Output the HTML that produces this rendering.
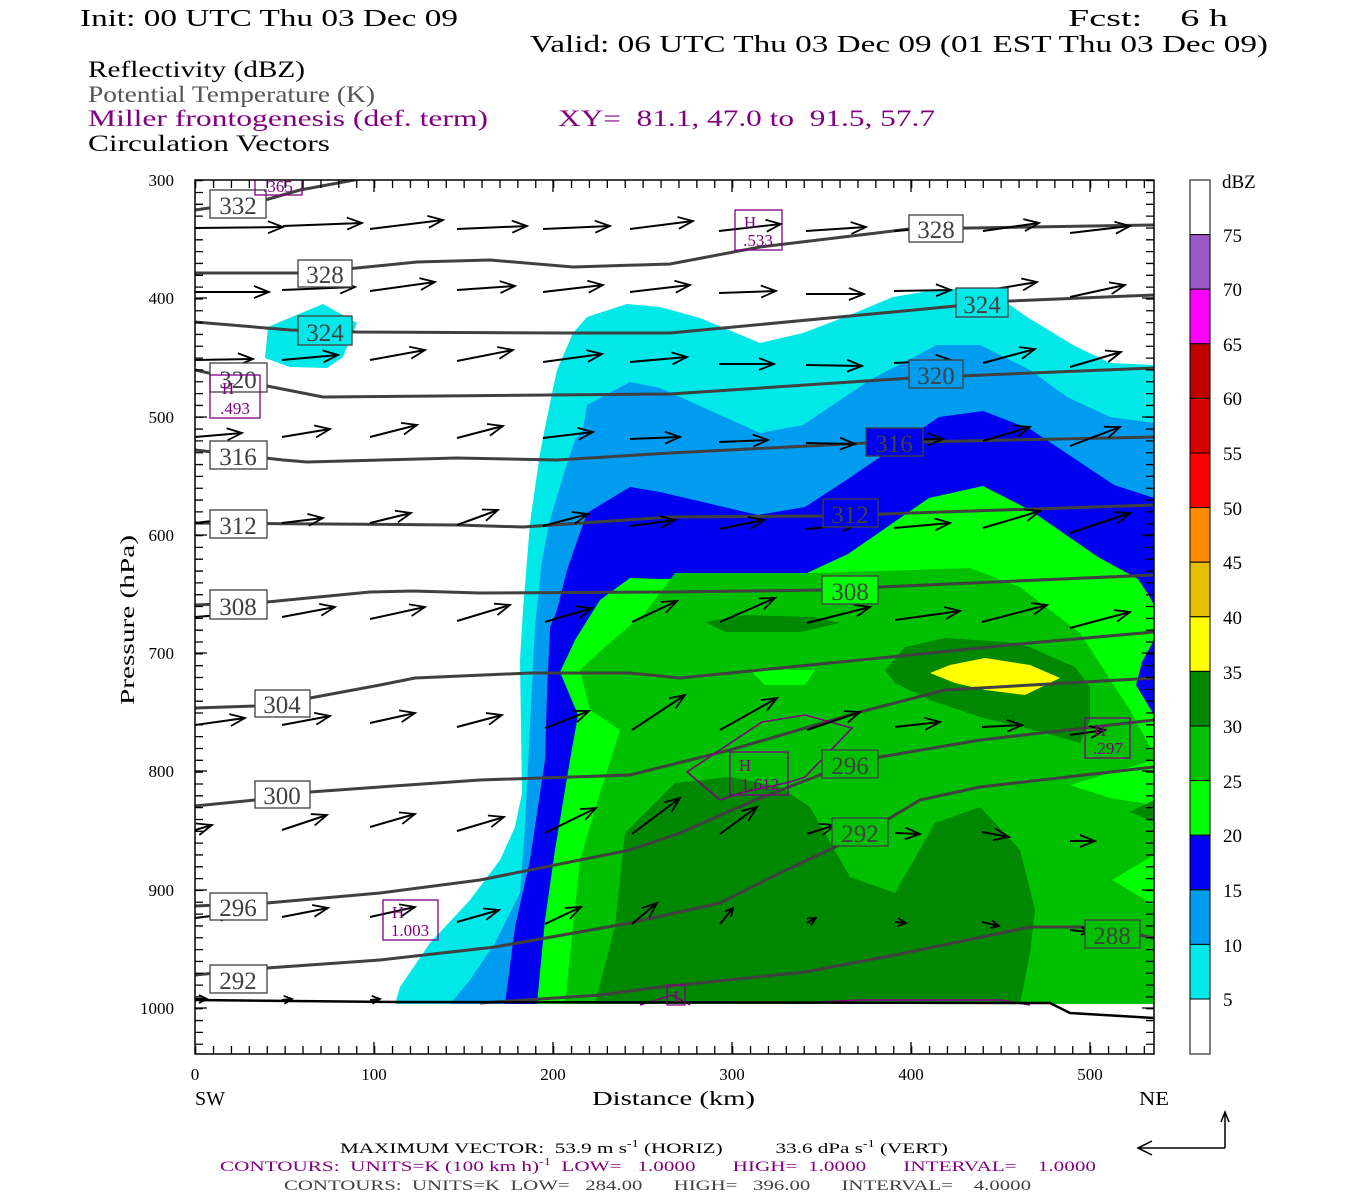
<!DOCTYPE html>
<html><head><meta charset="utf-8"><style>
html,body{margin:0;padding:0;background:#fff;}
svg{display:block;}
text{font-family:"Liberation Serif",serif;white-space:pre;}
</style></head><body>
<svg width="1350" height="1200" viewBox="0 0 1350 1200" xmlns="http://www.w3.org/2000/svg" xml:space="preserve">
<defs>
<clipPath id="pc"><rect x="195" y="180" width="959" height="874"/></clipPath>
<marker id="ah" markerUnits="userSpaceOnUse" markerWidth="40" markerHeight="40" viewBox="-20 -20 40 40" refX="0" refY="0" orient="auto" overflow="visible"><path d="M-15,-6 L0,0 L-15,6" fill="none" stroke="#000" stroke-width="1.8"/></marker>
<marker id="ah2" markerUnits="userSpaceOnUse" markerWidth="40" markerHeight="40" viewBox="-20 -20 40 40" refX="0" refY="0" orient="auto" overflow="visible"><path d="M-8,-4 L0,0 L-8,4" fill="none" stroke="#000" stroke-width="1.8"/></marker>
</defs>

<!-- header text -->
<text x="80" y="26" font-size="24" textLength="378" lengthAdjust="spacingAndGlyphs">Init: 00 UTC Thu 03 Dec 09</text>
<text x="1068" y="26" font-size="24" textLength="160" lengthAdjust="spacingAndGlyphs">Fcst:    6 h</text>
<text x="530" y="52" font-size="24" textLength="738" lengthAdjust="spacingAndGlyphs">Valid: 06 UTC Thu 03 Dec 09 (01 EST Thu 03 Dec 09)</text>
<text x="88" y="77" font-size="23" textLength="217" lengthAdjust="spacingAndGlyphs">Reflectivity (dBZ)</text>
<text x="88" y="102" font-size="23" fill="#555" textLength="287" lengthAdjust="spacingAndGlyphs">Potential Temperature (K)</text>
<text x="88" y="126" font-size="23" fill="#800080" textLength="400" lengthAdjust="spacingAndGlyphs">Miller frontogenesis (def. term)</text>
<text x="558" y="126" font-size="23" fill="#800080" textLength="377" lengthAdjust="spacingAndGlyphs">XY=  81.1, 47.0 to  91.5, 57.7</text>
<text x="88" y="151" font-size="23" textLength="242" lengthAdjust="spacingAndGlyphs">Circulation Vectors</text>

<g clip-path="url(#pc)">
<path fill="#00E8E8" d="M395,1004 L400,987 430,943 470,900 500,860 515,827 522,793 520,660 523,610 530,523 540,453 550,403 557,370 573,333 587,317 627,304 660,307 700,318 760,343 803,333 850,315 893,297 935,290 970,288 1000,298 1027,317 1073,345 1110,363 1154,365 L1154,1004 Z"/>
<path fill="#00E8E8" d="M268,327 L323,304 357,323 343,357 327,368 290,367 265,358 Z"/>
<path fill="#009CF0" d="M450,1004 L470,980 495,943 520,893 525,827 530,727 535,627 542,560 550,520 565,470 575,440 583,430 587,405 630,382 660,388 760,433 803,425 870,380 937,345 980,345 1030,370 1067,397 1110,417 1154,423 L1154,1004 Z"/>
<path fill="#0000F0" d="M505,1004 L515,927 530,860 545,760 547,693 550,627 557,610 567,570 587,513 630,487 660,492 758,515 805,507 842,483 939,417 983,411 1030,429 1114,485 1154,498 L1154,1004 Z"/>
<path fill="#00FF00" d="M537,1004 L545,920 555,850 570,760 578,715 560,672 575,640 600,600 630,578 660,579 805,574 848,554 929,498 983,486 1030,510 1098,557 1138,579 1148,594 1154,605 L1154,1004 Z"/>
<path fill="#0000F0" d="M1154,640 L1142,662 1136,685 1154,715 Z"/>
<path fill="#00C000" d="M565,1004 L580,860 600,793 620,730 590,710 580,670 605,647 645,613 675,573 820,573 970,568 1020,587 1080,633 1130,710 1150,747 1154,750 L1154,1004 Z"/>
<path fill="#00FF00" d="M750,670 L815,670 805,685 765,685 Z"/>
<path fill="#00FF00" d="M1154,760 L1070,785 1110,798 1154,805 Z"/>
<path fill="#00FF00" d="M1154,855 L1112,880 1154,905 Z"/>
<path fill="#008800" d="M705,622 L745,615 815,617 840,623 800,632 725,632 Z"/>
<path fill="#008800" d="M885,670 L905,647 945,638 1020,643 1075,667 1090,687 1090,720 1080,743 1045,733 980,717 930,700 895,683 Z"/>
<path fill="#008800" d="M595,1004 L615,927 625,833 675,783 730,777 780,787 810,807 850,877 895,893 935,823 980,807 1020,850 1035,910 1030,953 1020,1004 Z"/>
<path fill="#008800" d="M1154,800 L1130,812 1154,822 Z"/>
<path fill="#FFFF00" d="M930,673 L950,665 985,658 1030,665 1060,678 1025,695 985,690 955,683 Z"/>

<g fill="none" stroke="#404040" stroke-width="3" stroke-linejoin="round">
<polyline points="195,210 265,200 300,190 365,178"/>
<polyline points="195,273 300,273 357,268 417,262 490,260 573,267 670,264 760,247 860,235 909,229 1154,225"/>
<polyline points="195,322 290,330 357,332 567,333 670,333 956,306 1010,301 1154,295"/>
<polyline points="195,370 267,386 323,397 670,394 911,378 1154,368"/>
<polyline points="195,450 283,460 307,462 457,458 557,460 670,453 867,443 1154,437"/>
<polyline points="195,523 457,525 523,527 670,517 823,516 1154,505"/>
<polyline points="195,605 267,602 370,592 413,591 480,593 670,592 825,590 880,587 1154,575"/>
<polyline points="195,708 255,706 310,698 380,685 415,678 530,673 630,673 680,678 830,663 1030,643 1154,632"/>
<polyline points="195,806 255,800 310,792 380,787 480,780 630,775 730,750 860,712 945,690 1154,678"/>
<polyline points="195,906 267,903 380,893 480,880 630,850 680,833 755,800 825,773 880,757 980,740 1154,720"/>
<polyline points="195,975 267,968 380,960 495,947 630,923 720,903 780,873 835,847 890,818 920,800 980,787 1154,767"/>
<polyline points="480,1003 600,995 660,987 805,972 895,955 1030,927 1085,927 1140,935 1154,938"/>
</g>
<g fill="none" stroke="#800080" stroke-width="1.5">
<polygon points="687,772 762,722 805,715 852,728 805,777 790,782 740,793 720,800"/>
<polyline points="640,1005 672,995 690,1005"/>
<polyline points="800,1003 860,1000 1000,1000 1030,1005"/>
</g>
<polyline points="195,1000 400,1002 1050,1003 1070,1013 1154,1018" fill="none" stroke="#000" stroke-width="2.5"/>

<g stroke="#000" stroke-width="2" marker-end="url(#ah)">
<line x1="195" y1="228" x2="283" y2="227"/><line x1="283" y1="226" x2="362" y2="223"/><line x1="370" y1="229" x2="443" y2="220"/><line x1="457" y1="229" x2="527" y2="226"/><line x1="543" y1="229" x2="610" y2="226"/><line x1="630" y1="229" x2="693" y2="221"/><line x1="719" y1="231" x2="781" y2="224"/><line x1="806" y1="231" x2="866" y2="227"/><line x1="894" y1="231" x2="951" y2="227"/><line x1="983" y1="231" x2="1039" y2="223"/><line x1="1070" y1="233" x2="1130" y2="226"/>
<line x1="195" y1="292" x2="269" y2="292"/><line x1="282" y1="290" x2="355" y2="287"/><line x1="370" y1="291" x2="435" y2="282"/><line x1="457" y1="290" x2="515" y2="286"/><line x1="543" y1="292" x2="603" y2="285"/><line x1="630" y1="292" x2="690" y2="285"/><line x1="719" y1="293" x2="776" y2="291"/><line x1="806" y1="294" x2="864" y2="294"/><line x1="894" y1="291" x2="951" y2="290"/><line x1="983" y1="291" x2="1037" y2="282"/><line x1="1070" y1="297" x2="1125" y2="285"/>
<line x1="195" y1="360" x2="253" y2="359"/><line x1="282" y1="360" x2="338" y2="355"/><line x1="370" y1="360" x2="425" y2="350"/><line x1="457" y1="361" x2="513" y2="350"/><line x1="543" y1="362" x2="602" y2="354"/><line x1="630" y1="362" x2="687" y2="357"/><line x1="719" y1="364" x2="774" y2="364"/><line x1="806" y1="365" x2="862" y2="366"/><line x1="894" y1="363" x2="951" y2="360"/><line x1="983" y1="363" x2="1035" y2="349"/><line x1="1070" y1="367" x2="1121" y2="352"/>
<line x1="195" y1="437" x2="242" y2="433"/><line x1="282" y1="437" x2="330" y2="429"/><line x1="370" y1="437" x2="417" y2="425"/><line x1="457" y1="438" x2="503" y2="426"/><line x1="543" y1="438" x2="593" y2="432"/><line x1="630" y1="439" x2="680" y2="437"/><line x1="719" y1="442" x2="768" y2="440"/><line x1="806" y1="443" x2="855" y2="444"/><line x1="894" y1="440" x2="943" y2="439"/><line x1="983" y1="441" x2="1030" y2="427"/><line x1="1070" y1="446" x2="1120" y2="427"/>
<line x1="195" y1="523" x2="237" y2="518"/><line x1="282" y1="523" x2="323" y2="518"/><line x1="370" y1="523" x2="411" y2="513"/><line x1="457" y1="525" x2="498" y2="510"/><line x1="543" y1="526" x2="588" y2="514"/><line x1="630" y1="526" x2="675" y2="520"/><line x1="719" y1="529" x2="764" y2="520"/><line x1="806" y1="529" x2="857" y2="524"/><line x1="894" y1="528" x2="950" y2="523"/><line x1="983" y1="528" x2="1040" y2="511"/><line x1="1070" y1="533" x2="1130" y2="513"/>
<line x1="195" y1="617" x2="258" y2="612"/><line x1="282" y1="617" x2="335" y2="607"/><line x1="370" y1="619" x2="425" y2="607"/><line x1="457" y1="621" x2="510" y2="605"/><line x1="545" y1="622" x2="592" y2="608"/><line x1="632" y1="622" x2="677" y2="601"/><line x1="720" y1="622" x2="775" y2="598"/><line x1="807" y1="623" x2="870" y2="607"/><line x1="895" y1="620" x2="960" y2="611"/><line x1="982" y1="622" x2="1047" y2="605"/><line x1="1070" y1="628" x2="1130" y2="612"/>
<line x1="195" y1="725" x2="245" y2="718"/><line x1="282" y1="725" x2="330" y2="716"/><line x1="370" y1="723" x2="415" y2="713"/><line x1="457" y1="727" x2="502" y2="715"/><line x1="545" y1="728" x2="589" y2="711"/><line x1="632" y1="730" x2="685" y2="695"/><line x1="720" y1="730" x2="777" y2="698"/><line x1="807" y1="730" x2="860" y2="712"/><line x1="895" y1="727" x2="940" y2="722"/><line x1="982" y1="727" x2="1022" y2="725"/><line x1="1070" y1="735" x2="1105" y2="730"/>
<line x1="195" y1="830" x2="212" y2="825"/><line x1="282" y1="830" x2="327" y2="815"/><line x1="370" y1="827" x2="415" y2="814"/><line x1="457" y1="831" x2="504" y2="817"/><line x1="545" y1="833" x2="596" y2="808"/><line x1="632" y1="834" x2="680" y2="798"/><line x1="720" y1="834" x2="757" y2="807"/><line x1="807" y1="834" x2="835" y2="825"/><line x1="895" y1="833" x2="920" y2="834"/><line x1="982" y1="832" x2="1009" y2="837"/><line x1="1070" y1="841" x2="1095" y2="841"/>
<line x1="195" y1="918" x2="235" y2="913"/><line x1="282" y1="917" x2="328" y2="908"/><line x1="370" y1="917" x2="415" y2="907"/><line x1="457" y1="922" x2="499" y2="910"/><line x1="545" y1="924" x2="581" y2="907"/><line x1="632" y1="924" x2="657" y2="903"/>
</g>
<g stroke="#000" stroke-width="2" marker-end="url(#ah2)">
<line x1="720" y1="924" x2="733" y2="908"/><line x1="807" y1="923" x2="816" y2="918"/><line x1="895" y1="922" x2="906" y2="923"/><line x1="982" y1="922" x2="999" y2="926"/><line x1="1070" y1="930" x2="1089" y2="932"/>
<line x1="195" y1="999" x2="207" y2="999"/><line x1="282" y1="1000" x2="292" y2="999"/><line x1="370" y1="1000" x2="380" y2="999"/>
</g>

<g stroke="#404040" stroke-width="1.3">
<rect x="210" y="190" width="56" height="28" fill="#fff"/>
<rect x="298" y="260" width="54" height="27" fill="#fff"/>
<rect x="909" y="215" width="54" height="27" fill="#fff"/>
<rect x="298" y="316" width="54" height="29" fill="#00E8E8"/>
<rect x="956" y="288" width="52" height="29" fill="#00E8E8"/>
<rect x="210" y="363" width="57" height="29" fill="#fff"/>
<rect x="909" y="360" width="54" height="28" fill="#009CF0"/>
<rect x="210" y="441" width="57" height="28" fill="#fff"/>
<rect x="866" y="428" width="57" height="28" fill="#0000F0"/>
<rect x="210" y="510" width="57" height="28" fill="#fff"/>
<rect x="823" y="499" width="55" height="28" fill="#0000F0"/>
<rect x="210" y="590" width="57" height="29" fill="#fff"/>
<rect x="822" y="576" width="56" height="28" fill="#00FF00"/>
<rect x="255" y="690" width="55" height="27" fill="#fff"/>
<rect x="255" y="781" width="55" height="27" fill="#fff"/>
<rect x="210" y="893" width="57" height="27" fill="#fff"/>
<rect x="822" y="750" width="56" height="28" fill="#00C000"/>
<rect x="210" y="965" width="57" height="28" fill="#fff"/>
<rect x="832" y="818" width="56" height="28" fill="#00C000"/>
<rect x="1085" y="920" width="55" height="28" fill="#00C000"/>
</g>
<g fill="#404040" font-size="25" text-anchor="middle">
<text x="238" y="214">332</text><text x="325" y="283">328</text><text x="936" y="238">328</text>
<text x="325" y="341">324</text><text x="982" y="313">324</text>
<text x="238" y="388">320</text><text x="936" y="384">320</text>
<text x="238" y="465">316</text><text x="894" y="452">316</text>
<text x="238" y="534">312</text><text x="850" y="523">312</text>
<text x="238" y="615">308</text><text x="850" y="600">308</text>
<text x="282" y="713">304</text><text x="282" y="804">300</text>
<text x="238" y="916">296</text><text x="850" y="774">296</text>
<text x="238" y="989">292</text><text x="860" y="842">292</text>
<text x="1112" y="944">288</text>
</g>
<g stroke="#800080" stroke-width="1.3" fill="none">
<rect x="255" y="168" width="47" height="27"/>
<rect x="210" y="375" width="50" height="43"/>
<rect x="735" y="210" width="47" height="40"/>
<rect x="730" y="752" width="58" height="43"/>
<rect x="383" y="900" width="55" height="40"/>
<rect x="1085" y="718" width="45" height="40"/>
<rect x="667" y="985" width="18" height="20"/>
</g>
<g fill="#800080" font-size="17" text-anchor="middle">
<text x="278" y="192">.365</text>
<text x="228" y="394">H</text><text x="235" y="414">.493</text>
<text x="750" y="228">H</text><text x="758" y="246">.533</text>
<text x="745" y="771">H</text><text x="760" y="790">1.612</text>
<text x="398" y="918">H</text><text x="410" y="936">1.003</text>
<text x="1100" y="736">H</text><text x="1108" y="754">.297</text>
<text x="676" y="1002">1</text>
</g>
</g>

<rect x="195" y="180" width="959" height="874" fill="none" stroke="#000" stroke-width="1.5"/>
<g stroke="#000">
<line x1="199" y1="180" x2="199" y2="1054" stroke-width="8" stroke-dasharray="1.3 10.53"/>
<line x1="1150" y1="180" x2="1150" y2="1054" stroke-width="8" stroke-dasharray="1.3 10.53"/>
<line x1="195" y1="184" x2="1154" y2="184" stroke-width="8" stroke-dasharray="1.3 16.6"/>
<line x1="195" y1="1050" x2="1154" y2="1050" stroke-width="8" stroke-dasharray="1.3 16.6"/>
<path stroke-width="1.3" d="M374,180v12M553,180v12M732,180v12M911,180v12M1090,180v12M374,1054v-12M553,1054v-12M732,1054v-12M911,1054v-12M1090,1054v-12M195,298h12M195,417h12M195,535h12M195,653h12M195,771h12M195,890h12M195,1008h12M1154,298h-12M1154,417h-12M1154,535h-12M1154,653h-12M1154,771h-12M1154,890h-12M1154,1008h-12"/>
</g>
<g font-size="17" text-anchor="end">
<text x="174" y="186">300</text><text x="174" y="304">400</text><text x="174" y="423">500</text><text x="174" y="541">600</text><text x="174" y="659">700</text><text x="174" y="777">800</text><text x="174" y="896">900</text><text x="174" y="1014">1000</text>
</g>
<text transform="translate(134,620) rotate(-90)" font-size="20" text-anchor="middle" textLength="170" lengthAdjust="spacingAndGlyphs">Pressure (hPa)</text>
<g font-size="17" text-anchor="middle">
<text x="195" y="1080">0</text><text x="374" y="1080">100</text><text x="553" y="1080">200</text><text x="732" y="1080">300</text><text x="911" y="1080">400</text><text x="1090" y="1080">500</text>
</g>
<text x="195" y="1105" font-size="20" textLength="30" lengthAdjust="spacingAndGlyphs">SW</text>
<text x="592" y="1105" font-size="20" textLength="163" lengthAdjust="spacingAndGlyphs">Distance (km)</text>
<text x="1139" y="1105" font-size="20" textLength="30" lengthAdjust="spacingAndGlyphs">NE</text>

<g stroke="#000" stroke-width="1">
<rect x="1190" y="180" width="20" height="54.6" fill="#fff"/>
<rect x="1190" y="234.6" width="20" height="54.6" fill="#9B59C8"/>
<rect x="1190" y="289.2" width="20" height="54.6" fill="#FF00FF"/>
<rect x="1190" y="343.8" width="20" height="54.6" fill="#BE0000"/>
<rect x="1190" y="398.4" width="20" height="54.6" fill="#D40000"/>
<rect x="1190" y="453" width="20" height="54.6" fill="#FF0000"/>
<rect x="1190" y="507.6" width="20" height="54.6" fill="#FF8C00"/>
<rect x="1190" y="562.2" width="20" height="54.6" fill="#E6BE00"/>
<rect x="1190" y="616.8" width="20" height="54.6" fill="#FFFF00"/>
<rect x="1190" y="671.4" width="20" height="54.6" fill="#008800"/>
<rect x="1190" y="726" width="20" height="54.6" fill="#00C000"/>
<rect x="1190" y="780.6" width="20" height="54.6" fill="#00FF00"/>
<rect x="1190" y="835.2" width="20" height="54.6" fill="#0000F0"/>
<rect x="1190" y="889.8" width="20" height="54.6" fill="#009CF0"/>
<rect x="1190" y="944.4" width="20" height="54.6" fill="#00E8E8"/>
<rect x="1190" y="999" width="20" height="55" fill="#fff"/>
</g>
<g font-size="19">
<text x="1222" y="188">dBZ</text>
<text x="1223" y="242">75</text><text x="1223" y="296">70</text><text x="1223" y="351">65</text><text x="1223" y="405">60</text><text x="1223" y="460">55</text><text x="1223" y="515">50</text><text x="1223" y="569">45</text><text x="1223" y="624">40</text><text x="1223" y="679">35</text><text x="1223" y="733">30</text><text x="1223" y="788">25</text><text x="1223" y="842">20</text><text x="1223" y="897">15</text><text x="1223" y="952">10</text><text x="1223" y="1006">5</text>
</g>

<text x="340" y="1153" font-size="15" textLength="608" lengthAdjust="spacingAndGlyphs">MAXIMUM VECTOR:  53.9 m s<tspan font-size="10" dy="-6">-1</tspan><tspan dy="6"> (HORIZ)          33.6 dPa s</tspan><tspan font-size="10" dy="-6">-1</tspan><tspan dy="6"> (VERT)</tspan></text>
<text x="220" y="1171" font-size="15" fill="#800080" textLength="876" lengthAdjust="spacingAndGlyphs">CONTOURS:  UNITS=K (100 km h)<tspan font-size="10" dy="-6">-1</tspan><tspan dy="6">  LOW=   1.0000       HIGH=  1.0000       INTERVAL=    1.0000</tspan></text>
<text x="284" y="1190" font-size="15" fill="#404040" textLength="747" lengthAdjust="spacingAndGlyphs">CONTOURS:  UNITS=K  LOW=   284.00      HIGH=   396.00      INTERVAL=    4.0000</text>
<g stroke="#000" stroke-width="1.5" fill="none">
<path d="M1225,1148 H1138 M1152,1141 L1138,1148 L1152,1155"/>
<path d="M1225,1148 V1112 M1221,1122 L1225,1112 L1229,1122"/>
</g>
</svg>
</body></html>
